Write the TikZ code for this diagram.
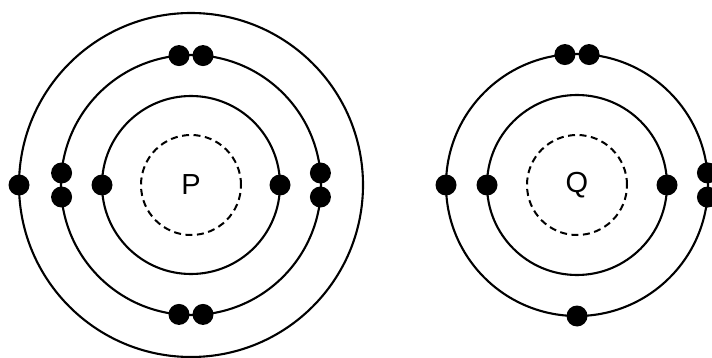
\documentclass[tikz,border=0pt]{standalone}
\usepackage{fontspec}
\setmainfont{Liberation Sans}
\begin{document}
\begin{tikzpicture}[x=1pt,y=-1pt,
  shell/.style={draw=black,line width=2.1pt},
  core/.style={draw=black,line width=2pt,dash pattern=on 7pt off 4.5pt},
  electron/.style={circle,fill=black,inner sep=0pt,minimum size=21pt},
  label/.style={font=\fontsize{29}{31}\selectfont}]
\useasboundingbox (0,0) rectangle (712,358);
\clip (0,0) rectangle (712,358);
% Atom P
\coordinate (P) at (191,185);
\draw[core] (P) circle[radius=50pt];
\draw[shell] (P) circle[radius=89pt];
\draw[shell] (P) circle[radius=130pt];
\draw[shell] (P) circle[radius=172pt];
\node[label] (pl) at (P) {P};
\node[electron] (p1) at ([shift={(180:89pt)}]P) {};
\node[electron] (p2) at ([shift={(0:89pt)}]P) {};
\node[electron] (p3) at ([shift={(84.7:130pt)}]P) {};
\node[electron] (p4) at ([shift={(95.3:130pt)}]P) {};
\node[electron] (p5) at ([shift={(174.7:130pt)}]P) {};
\node[electron] (p6) at ([shift={(185.3:130pt)}]P) {};
\node[electron] (p7) at ([shift={(264.7:130pt)}]P) {};
\node[electron] (p8) at ([shift={(275.3:130pt)}]P) {};
\node[electron] (p9) at ([shift={(5.3:130pt)}]P) {};
\node[electron] (p10) at ([shift={(-5.3:130pt)}]P) {};
\node[electron] (p11) at ([shift={(180:172pt)}]P) {};
% Atom Q
\coordinate (Q) at (577,185);
\draw[core] (Q) circle[radius=50pt];
\draw[shell] (Q) circle[radius=90pt];
\draw[shell] (Q) circle[radius=131pt];
\node[label] (ql) at (Q) {Q};
\node[electron] (q1) at ([shift={(180:90pt)}]Q) {};
\node[electron] (q2) at ([shift={(0:90pt)}]Q) {};
\node[electron] (q3) at ([shift={(84.7:131pt)}]Q) {};
\node[electron] (q4) at ([shift={(95.3:131pt)}]Q) {};
\node[electron] (q5) at ([shift={(180:131pt)}]Q) {};
\node[electron] (q6) at ([shift={(5.3:131pt)}]Q) {};
\node[electron] (q7) at ([shift={(-5.3:131pt)}]Q) {};
\node[electron] (q8) at ([shift={(270:131pt)}]Q) {};
\end{tikzpicture}
\end{document}
